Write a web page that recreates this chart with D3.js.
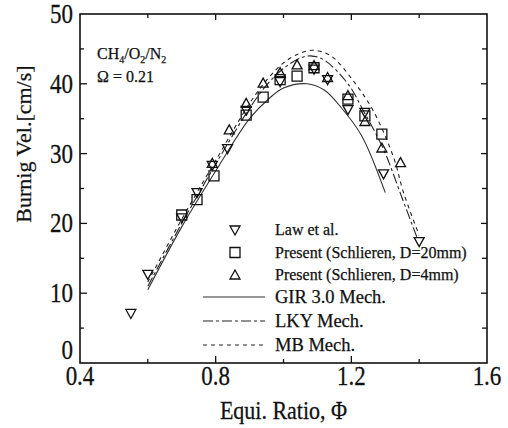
<!DOCTYPE html>
<html>
<head>
<meta charset="utf-8">
<script src="https://cdn.jsdelivr.net/npm/d3@7"></script>
<style>
  body { margin: 0; background: #fff; }
  svg text { font-family: "Liberation Serif", "DejaVu Serif", serif; fill: #111; stroke: #111; stroke-width: 0.25; }
</style>
</head>
<body>
<div id="chart"></div>
<script>
// equivalence ratio / burning velocity
var lawPhi   = [0.55, 0.60, 0.70, 0.745, 0.79, 0.835, 0.89, 0.99, 1.09, 1.13, 1.19, 1.24, 1.295, 1.40];
var lawVel   = [7.1, 12.7, 20.8, 24.4, 28.3, 30.7, 36.2, 40.3, 42.1, 40.6, 36.3, 35.9, 27.1, 17.4];

var d20Phi   = [0.70, 0.745, 0.795, 0.89, 0.94, 0.99, 1.04, 1.09, 1.19, 1.24, 1.29];
var d20Vel   = [21.2, 23.4, 26.8, 35.5, 38.1, 40.6, 41.1, 42.3, 37.8, 35.4, 32.8];

var d4Phi    = [0.79, 0.84, 0.89, 0.94, 0.99, 1.04, 1.09, 1.13, 1.19, 1.24, 1.29, 1.345];
var d4Vel    = [28.6, 33.4, 37.2, 40.1, 41.6, 42.7, 42.6, 40.9, 38.3, 34.6, 30.8, 28.7];

var girPhi   = [0.60, 0.70, 0.80, 0.90, 0.96, 1.00, 1.07, 1.12, 1.17, 1.23, 1.30];
var girVel   = [10.5, 19.5, 27.5, 35.0, 38.0, 39.4, 40.0, 39.1, 36.6, 32.6, 24.4];

var lkyPhi   = [0.60, 0.70, 0.80, 0.90, 0.95, 1.00, 1.05, 1.08, 1.12, 1.19, 1.236, 1.295, 1.35, 1.395];
var lkyVel   = [11.0, 20.0, 28.5, 36.5, 39.8, 42.2, 43.7, 44.0, 43.4, 40.0, 36.1, 30.6, 23.6, 17.8];

var mbPhi    = [0.60, 0.70, 0.80, 0.90, 0.95, 1.00, 1.05, 1.09, 1.14, 1.206, 1.265, 1.325, 1.354, 1.40];
var mbVel    = [11.6, 20.6, 29.0, 37.2, 40.5, 43.0, 44.4, 44.8, 44.0, 40.4, 36.1, 29.4, 24.4, 18.3];

var xTicks      = [0.4, 0.8, 1.2, 1.6];
var xMinorTicks = [0.6, 1.0, 1.4];
var yTicks      = [0, 10, 20, 30, 40, 50];
var yMinorTicks = [5, 15, 25, 35, 45];

var legendMarks = ["Law et al.", "Present (Schlieren, D=20mm)", "Present (Schlieren, D=4mm)"];
var legendLines = ["GIR 3.0 Mech.", "LKY Mech.", "MB Mech."];

function zip(a, b) { return a.map(function(v, i) { return [v, b[i]]; }); }

var W = 508, H = 428;
var svg = d3.select("#chart").append("svg")
  .attr("width", W).attr("height", H);

var x = d3.scaleLinear().domain([0.4, 1.6]).range([80, 487]);
var y = d3.scaleLinear().domain([0, 50]).range([363, 14]);

// frame
var g = svg.append("g");
g.append("rect")
  .attr("x", x(0.4)).attr("y", y(50))
  .attr("width", x(1.6) - x(0.4)).attr("height", y(0) - y(50))
  .attr("fill", "none").attr("stroke", "#111").attr("stroke-width", 1.6);

// ticks, inward
function tick(x1, y1, x2, y2) {
  g.append("line").attr("x1", x1).attr("y1", y1).attr("x2", x2).attr("y2", y2)
    .attr("stroke", "#111").attr("stroke-width", 1.3);
}
xTicks.slice(1, -1).forEach(function(t) {
  tick(x(t), y(0), x(t), y(0) - 7);
  tick(x(t), y(50), x(t), y(50) + 6);
});
xMinorTicks.forEach(function(t) {
  tick(x(t), y(0), x(t), y(0) - 4);
  tick(x(t), y(50), x(t), y(50) + 4);
});
yTicks.slice(1, -1).forEach(function(t) {
  tick(x(0.4), y(t), x(0.4) + 7, y(t));
  tick(x(1.6), y(t), x(1.6) - 6, y(t));
});
yMinorTicks.forEach(function(t) {
  tick(x(0.4), y(t), x(0.4) + 4, y(t));
  tick(x(1.6), y(t), x(1.6) - 5, y(t));
});

// tick labels (the scan is a bit taller than wide)
g.selectAll(".xl").data(xTicks).enter().append("text")
  .attr("transform", function(d) { return "translate(" + x(d) + ",385) scale(1,1.15)"; })
  .attr("text-anchor", "middle")
  .attr("font-size", 23)
  .text(function(d) { return d3.format(".1f")(d); });

g.selectAll(".yl").data(yTicks).enter().append("text")
  .attr("transform", function(d) {
    return "translate(73," + (d === 0 ? y(d) - 4 : y(d) + 9) + ") scale(1,1.15)";
  })
  .attr("text-anchor", "end")
  .attr("font-size", 23)
  .text(function(d) { return d; });

// axis titles
svg.append("text")
  .attr("transform", "translate(" + x(1.0) + ",419) scale(1,1.1)")
  .attr("text-anchor", "middle").attr("font-size", 22)
  .text("Equi. Ratio, Φ");

svg.append("text")
  .attr("transform", "translate(31,144) rotate(-90)")
  .attr("text-anchor", "middle").attr("font-size", 22)
  .text("Burnig Vel.[cm/s]");

// mixture annotation
var ann = svg.append("text").attr("x", 97).attr("y", 59).attr("font-size", 16);
ann.append("tspan").text("CH");
ann.append("tspan").attr("font-size", 10).attr("dy", 4).text("4");
ann.append("tspan").attr("dy", -4).text("/O");
ann.append("tspan").attr("font-size", 10).attr("dy", 4).text("2");
ann.append("tspan").attr("dy", -4).text("/N");
ann.append("tspan").attr("font-size", 10).attr("dy", 4).text("2");
svg.append("text").attr("x", 97).attr("y", 82).attr("font-size", 16).text("Ω = 0.21");

// model curves
var line = d3.line()
  .x(function(d) { return x(d[0]); })
  .y(function(d) { return y(d[1]); })
  .curve(d3.curveCatmullRom);

var curves = [
  { name: legendLines[0], data: zip(girPhi, girVel), dash: null, w: 1.1, col: "#333" },
  { name: legendLines[1], data: zip(lkyPhi, lkyVel), dash: "10,3,3,3", w: 1.1, col: "#222" },
  { name: legendLines[2], data: zip(mbPhi, mbVel), dash: "4,4", w: 1.1, col: "#222" }
];

svg.selectAll(".curve").data(curves).enter().append("path")
  .attr("class", "curve")
  .attr("d", function(d) { return line(d.data); })
  .attr("fill", "none")
  .attr("stroke", function(d) { return d.col; })
  .attr("stroke-width", function(d) { return d.w; })
  .attr("stroke-dasharray", function(d) { return d.dash; });

// markers
var triDown = "M-5,-4L5,-4L0,5Z";
var triUp   = "M-5,4L5,4L0,-5Z";
var square  = "M-5,-5L5,-5L5,5L-5,5Z";

var sets = [
  { data: zip(lawPhi, lawVel), shape: triDown },
  { data: zip(d20Phi, d20Vel), shape: square },
  { data: zip(d4Phi, d4Vel), shape: triUp }
];

sets.forEach(function(s) {
  svg.append("g").selectAll("path").data(s.data).enter().append("path")
    .attr("d", s.shape)
    .attr("transform", function(d) { return "translate(" + x(d[0]) + "," + y(d[1]) + ")"; })
    .attr("fill", "none")
    .attr("stroke", "#111")
    .attr("stroke-width", 1.3);
});

// legend
var leg = svg.append("g");
legendMarks.forEach(function(name, i) {
  var ly = 230 + i * 22.5;
  leg.append("path")
    .attr("d", sets[i].shape)
    .attr("transform", "translate(235," + ly + ")")
    .attr("fill", "none").attr("stroke", "#111").attr("stroke-width", 1.3);
  leg.append("text")
    .attr("x", 275).attr("y", ly + 5)
    .attr("font-size", 16)
    .text(name);
});
curves.forEach(function(c, i) {
  var ly = 297 + i * 24;
  leg.append("line")
    .attr("x1", 203).attr("x2", 265).attr("y1", ly).attr("y2", ly)
    .attr("stroke", c.col).attr("stroke-width", c.w)
    .attr("stroke-dasharray", c.dash);
  leg.append("text")
    .attr("x", 275).attr("y", ly + 6)
    .attr("font-size", 18.5)
    .text(c.name);
});
</script>
</body>
</html>
